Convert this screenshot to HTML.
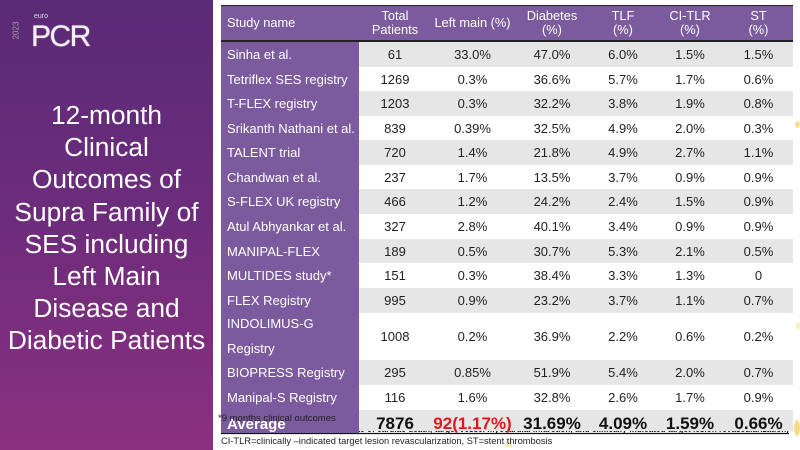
<!DOCTYPE html>
<html><head><meta charset="utf-8">
<style>
*{margin:0;padding:0;box-sizing:border-box}
html,body{width:800px;height:450px;overflow:hidden}
body{background:#fff;font-family:"Liberation Sans",Arial,sans-serif;position:relative}
#left{position:absolute;left:0;top:0;width:213px;height:450px;background:linear-gradient(180deg,#5a2a77 0%,#6b2c7b 45%,#8a3080 100%)}
.title{position:absolute;left:0;top:99px;width:213px;text-align:center;color:#fff;font-size:26.3px;line-height:32.2px}
.logo{position:absolute;left:31px;top:22px;color:#f4f0f6;font-size:30px;letter-spacing:-1.5px;line-height:30px;text-shadow:0 0 1px #fff}
.euro{position:absolute;left:34px;top:13px;color:#ddd;font-size:7px;line-height:7px}
.yr{position:absolute;left:4px;top:26px;color:#bba;font-size:8px;transform:rotate(-90deg);transform-origin:center;width:24px;text-align:center;opacity:.8}
.row{position:absolute;left:221px;width:572px}
.c{position:absolute;top:0;height:100%;display:flex;align-items:center;justify-content:center;font-size:13px;color:#222;text-align:center}
.c0{left:0;width:138px;background:#7b5b9d;color:#fff;justify-content:flex-start;padding-left:6px;text-align:left}
.c1{left:138px;width:72px}
.c2{left:210px;width:83px}
.c3{left:293px;width:76px}
.c4{left:369px;width:66px}
.c5{left:435px;width:68px}
.c6{left:503px;width:69px}
.g{background:#e6e6e6}
.w{background:#fff}
.hdr{top:5px;height:37px;background:#7b5b9d;border-top:1.5px solid #222;border-bottom:2px solid #222}
.hdr .c{color:#fff;background:transparent;line-height:14px;font-size:12.8px}
.avg .c{font-weight:bold;font-size:17px;color:#111}
.avg .c.c0{color:#fff}
.fn1{position:absolute;left:218px;top:414px;font-size:9.5px;color:#222;line-height:10px;z-index:5}
.fn2{position:absolute;left:221px;top:423px;width:572px;height:13px;z-index:0}
.fn3{position:absolute;left:221px;top:436px;font-size:9.3px;color:#222;line-height:10px;white-space:nowrap;z-index:5}
.dot{position:absolute;background:#f3d36a;border-radius:50%}
</style></head><body>
<div id="left">
  <div class="yr">2023</div>
  <div class="euro">euro</div>
  <div class="logo">PCR</div>
  <div class="title">12-month<br>Clinical<br>Outcomes of<br>Supra Family of<br>SES including<br>Left Main<br>Disease and<br>Diabetic Patients</div>
</div>

<svg class="fn2" width="572" height="13" viewBox="0 0 572 13">
  <text x="0" y="9" font-family="Liberation Sans, Arial, sans-serif" font-size="10" font-weight="bold" fill="#111" textLength="568" lengthAdjust="spacingAndGlyphs">TLF=Target lesion failure (composite of cardiac death, target vessel myocardial infarction, and clinically-indicated target lesion revascularization)</text>
  <line x1="0" y1="10.5" x2="568" y2="10.5" stroke="#111" stroke-width="1.2"/>
</svg>

<div class="row hdr" style="z-index:2">
  <div class="c c0" style="background:transparent">Study name</div>
  <div class="c c1">Total<br>Patients</div>
  <div class="c c2">Left main (%)</div>
  <div class="c c3">Diabetes<br>(%)</div>
  <div class="c c4">TLF<br>(%)</div>
  <div class="c c5">CI-TLR<br>(%)</div>
  <div class="c c6">ST<br>(%)</div>
</div>

<div class="row" style="top:42px;height:25px;z-index:2"><div class="c c0">Sinha et al.</div><div class="c c1 g">61</div><div class="c c2 g">33.0%</div><div class="c c3 g">47.0%</div><div class="c c4 g">6.0%</div><div class="c c5 g">1.5%</div><div class="c c6 g">1.5%</div></div>
<div class="row" style="top:67px;height:24px;z-index:2"><div class="c c0">Tetriflex SES registry</div><div class="c c1 w">1269</div><div class="c c2 w">0.3%</div><div class="c c3 w">36.6%</div><div class="c c4 w">5.7%</div><div class="c c5 w">1.7%</div><div class="c c6 w">0.6%</div></div>
<div class="row" style="top:91px;height:25px;z-index:2"><div class="c c0">T-FLEX registry</div><div class="c c1 g">1203</div><div class="c c2 g">0.3%</div><div class="c c3 g">32.2%</div><div class="c c4 g">3.8%</div><div class="c c5 g">1.9%</div><div class="c c6 g">0.8%</div></div>
<div class="row" style="top:116px;height:24px;z-index:2"><div class="c c0">Srikanth Nathani et al.</div><div class="c c1 w">839</div><div class="c c2 w">0.39%</div><div class="c c3 w">32.5%</div><div class="c c4 w">4.9%</div><div class="c c5 w">2.0%</div><div class="c c6 w">0.3%</div></div>
<div class="row" style="top:140px;height:25px;z-index:2"><div class="c c0">TALENT trial</div><div class="c c1 g">720</div><div class="c c2 g">1.4%</div><div class="c c3 g">21.8%</div><div class="c c4 g">4.9%</div><div class="c c5 g">2.7%</div><div class="c c6 g">1.1%</div></div>
<div class="row" style="top:165px;height:24px;z-index:2"><div class="c c0">Chandwan et al.</div><div class="c c1 w">237</div><div class="c c2 w">1.7%</div><div class="c c3 w">13.5%</div><div class="c c4 w">3.7%</div><div class="c c5 w">0.9%</div><div class="c c6 w">0.9%</div></div>
<div class="row" style="top:189px;height:25px;z-index:2"><div class="c c0">S-FLEX UK registry</div><div class="c c1 g">466</div><div class="c c2 g">1.2%</div><div class="c c3 g">24.2%</div><div class="c c4 g">2.4%</div><div class="c c5 g">1.5%</div><div class="c c6 g">0.9%</div></div>
<div class="row" style="top:214px;height:25px;z-index:2"><div class="c c0">Atul Abhyankar et al.</div><div class="c c1 w">327</div><div class="c c2 w">2.8%</div><div class="c c3 w">40.1%</div><div class="c c4 w">3.4%</div><div class="c c5 w">0.9%</div><div class="c c6 w">0.9%</div></div>
<div class="row" style="top:239px;height:24px;z-index:2"><div class="c c0">MANIPAL-FLEX</div><div class="c c1 g">189</div><div class="c c2 g">0.5%</div><div class="c c3 g">30.7%</div><div class="c c4 g">5.3%</div><div class="c c5 g">2.1%</div><div class="c c6 g">0.5%</div></div>
<div class="row" style="top:263px;height:25px;z-index:2"><div class="c c0">MULTIDES study*</div><div class="c c1 w">151</div><div class="c c2 w">0.3%</div><div class="c c3 w">38.4%</div><div class="c c4 w">3.3%</div><div class="c c5 w">1.3%</div><div class="c c6 w">0</div></div>
<div class="row" style="top:288px;height:25px;z-index:2"><div class="c c0">FLEX Registry</div><div class="c c1 g">995</div><div class="c c2 g">0.9%</div><div class="c c3 g">23.2%</div><div class="c c4 g">3.7%</div><div class="c c5 g">1.1%</div><div class="c c6 g">0.7%</div></div>
<div class="row" style="top:313px;height:47px;z-index:2"><div class="c c0" style="line-height:24.5px">INDOLIMUS-G<br>Registry</div><div class="c c1 w">1008</div><div class="c c2 w">0.2%</div><div class="c c3 w">36.9%</div><div class="c c4 w">2.2%</div><div class="c c5 w">0.6%</div><div class="c c6 w">0.2%</div></div>
<div class="row" style="top:360px;height:25px;z-index:2"><div class="c c0">BIOPRESS Registry</div><div class="c c1 g">295</div><div class="c c2 g">0.85%</div><div class="c c3 g">51.9%</div><div class="c c4 g">5.4%</div><div class="c c5 g">2.0%</div><div class="c c6 g">0.7%</div></div>
<div class="row" style="top:385px;height:25px;z-index:2"><div class="c c0">Manipal-S Registry</div><div class="c c1 w">116</div><div class="c c2 w">1.6%</div><div class="c c3 w">32.8%</div><div class="c c4 w">2.6%</div><div class="c c5 w">1.7%</div><div class="c c6 w">0.9%</div></div>
<div class="row avg" style="top:410px;height:21px;z-index:2">
  <div class="c c0" style="height:23px;font-size:15px;align-items:flex-end;line-height:17px">Average</div>
  <div class="c c1 g" style="padding-top:6px">7876</div>
  <div class="c c2 g" style="padding-top:6px;color:#e8141b">92(1.17%)</div>
  <div class="c c3 g" style="padding-top:6px">31.69%</div>
  <div class="c c4 g" style="padding-top:6px">4.09%</div>
  <div class="c c5 g" style="padding-top:6px">1.59%</div>
  <div class="c c6 g" style="padding-top:6px">0.66%</div>
</div>

<div class="fn1">*9 months clinical outcomes</div>
<div class="fn3">CI-TLR=clinically –indicated target lesion revascularization, ST=stent thrombosis</div>

<div class="dot" style="left:795px;top:121px;width:5px;height:7px;opacity:.7"></div>
<div class="dot" style="left:796px;top:322px;width:4px;height:8px;opacity:.4"></div>
<div class="dot" style="left:794px;top:420px;width:6px;height:16px;opacity:.8"></div>
<div class="dot" style="left:506px;top:441px;width:6px;height:6px;border-radius:1px;opacity:.5"></div>
</body></html>
